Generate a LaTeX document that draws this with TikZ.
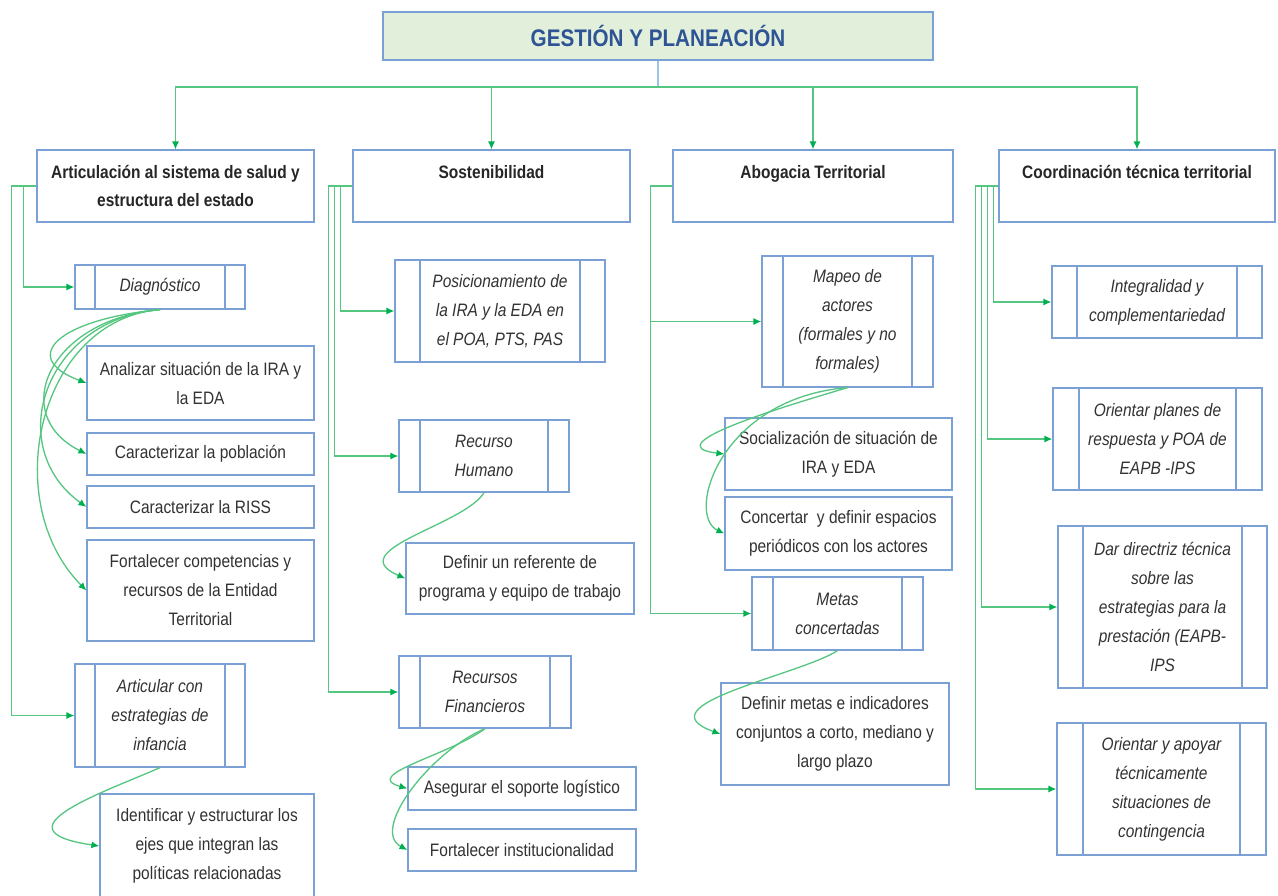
\documentclass[tikz,border=0pt]{standalone}
\usepackage{fontspec}
\setmainfont{Liberation Sans}[FakeStretch=0.86]
\usetikzlibrary{arrows.meta,calc}
\definecolor{boxblue}{RGB}{122,160,212}
\definecolor{lgreen}{RGB}{84,198,128}
\definecolor{agreen}{RGB}{0,176,80}
\definecolor{txt}{RGB}{50,50,50}
\definecolor{ttl}{RGB}{46,84,150}
\definecolor{ttlfill}{RGB}{226,239,218}
\definecolor{tline}{RGB}{157,195,230}
\begin{document}
\begin{tikzpicture}[x=1pt,y=-1pt,
  base/.style={draw=boxblue, line width=1.2pt, fill=white, text=txt, align=center, inner sep=0pt,
    font=\fontsize{18}{29}\selectfont},
  taskbox/.style={base},
  procbox/.style={base, font=\itshape\fontsize{18}{29}\selectfont,
    path picture={
      \draw[boxblue, line width=1.2pt] ([xshift=#1]path picture bounding box.north west) -- ([xshift=#1]path picture bounding box.south west);
      \draw[boxblue, line width=1.2pt] ([xshift=-#1]path picture bounding box.north east) -- ([xshift=-#1]path picture bounding box.south east);
    }},
  procbox/.default=22pt,
  lonebox/.style={base, text=black!85, font=\bfseries\fontsize{18}{28}\selectfont},
  titlebox/.style={draw=boxblue, line width=1.2pt, fill=ttlfill, text=ttl, inner sep=0pt,
    font=\bfseries\fontsize{24}{28}\selectfont},
  gline/.style={draw=lgreen, line width=1.3pt},
  garrow/.style={gline, -{Latex[length=8pt,width=7pt,color=agreen]}},
  tconn/.style={draw=tline, line width=1.2pt}
]
\useasboundingbox[fill=white] (0,0) rectangle (1278,895);

% title
\node[titlebox, minimum width=550pt, minimum height=48pt] (title) at (658,36) {GESTIÓN Y PLANEACIÓN};

% level 1
\node[lonebox, minimum width=277pt, minimum height=72pt] (a1) at (175.5,186) {Articulación al sistema de salud y\\estructura del estado};
\node[lonebox, minimum width=277pt, minimum height=72pt] (a2) at (491.5,186) {Sostenibilidad\\\phantom{x}};
\node[lonebox, minimum width=280pt, minimum height=72pt] (a3) at (813,186) {Abogacia Territorial\\\phantom{x}};
\node[lonebox, minimum width=276pt, minimum height=72pt] (a4) at (1137,186) {Coordinación técnica territorial\\\phantom{x}};

\coordinate (bus) at (658,87);
\draw[tconn] (title.south) -- (bus);
\draw[garrow] (bus) -| (a1.north);
\draw[garrow] (bus) -| (a2.north);
\draw[garrow] (bus) -| (a3.north);
\draw[garrow] (bus) -| (a4.north);

% column 1
\node[procbox=20pt, minimum width=170pt, minimum height=44pt] (diag) at (160,287) {Diagnóstico};
\node[taskbox, minimum width=227pt, minimum height=74pt] (anal) at (200.5,383) {Analizar situación de la IRA y\\la EDA};
\node[taskbox, minimum width=227pt, minimum height=42pt] (pobl) at (200.5,454) {Caracterizar la población};
\node[taskbox, minimum width=227pt, minimum height=42pt] (riss) at (200.5,507) {Caracterizar la RISS};
\node[taskbox, minimum width=227pt, minimum height=101pt] (fort) at (200.5,590.5) {Fortalecer competencias y\\recursos de la Entidad\\Territorial};
\node[procbox=20pt, minimum width=170pt, minimum height=103pt] (artic) at (160,715.5) {Articular con\\estrategias de\\infancia};
\node[taskbox, minimum width=214pt, minimum height=104pt] (ident) at (207,846) {Identificar y estructurar los\\ejes que integran las\\políticas relacionadas};

\draw[garrow] (a1.west) -- ++(-13,0) |- (diag.west);
\draw[garrow] (a1.west) -- ++(-25,0) |- (artic.west);

\draw[garrow] (diag.south) .. controls (60,319) and (17,357) .. (anal.west);
\draw[garrow] (diag.south) .. controls (50,319) and (7,414) .. (pobl.west);
\draw[garrow] (diag.south) .. controls (45,319) and (2,446) .. (riss.west);
\draw[garrow] (diag.south) .. controls (40,319) and (-3,500) .. (fort.west);
\draw[garrow] (artic.south) .. controls (110,790) and (-10,830) .. (ident.west);

% column 2
\node[procbox=25pt, minimum width=210pt, minimum height=102pt] (posi) at (500,311) {Posicionamiento de\\la IRA y la EDA en\\el POA, PTS, PAS};
\node[procbox=21pt, minimum width=170pt, minimum height=72pt] (rh) at (484,456) {Recurso\\Humano};
\node[taskbox, minimum width=228pt, minimum height=71pt] (defref) at (520,578.5) {Definir un referente de\\programa y equipo de trabajo};
\node[procbox=21pt, minimum width=172pt, minimum height=72pt] (rf) at (485,692) {Recursos\\Financieros};
\node[taskbox, minimum width=228pt, minimum height=43pt] (aseg) at (522,788.5) {Asegurar el soporte logístico};
\node[taskbox, minimum width=228pt, minimum height=42pt] (finst) at (522,850) {Fortalecer institucionalidad};

\draw[garrow] (a2.west) -- ++(-12,0) |- (posi.west);
\draw[garrow] (a2.west) -- ++(-18,0) |- (rh.west);
\draw[garrow] (a2.west) -- ++(-24,0) |- (rf.west);

\draw[garrow] (rh.south) .. controls (465,525) and (340,550) .. (defref.west);
\draw[garrow] (rf.south) .. controls (450,755) and (360,775) .. (aseg.west);
\draw[garrow] (rf.south) .. controls (430,752) and (370,830) .. (finst.west);

% column 3
\node[procbox=21pt, minimum width=171pt, minimum height=131pt] (mapeo) at (847.5,321.5) {Mapeo de\\actores\\(formales y no\\formales)};
\node[taskbox, minimum width=227pt, minimum height=72pt] (soc) at (838.5,454) {Socialización de situación de\\IRA y EDA};
\node[taskbox, minimum width=227pt, minimum height=73pt] (conc) at (838.5,533.5) {Concertar\ \ y definir espacios\\periódicos con los actores};
\node[procbox=21pt, minimum width=171pt, minimum height=73pt] (metas) at (837.5,613.5) {Metas\\concertadas};
\node[taskbox, minimum width=228pt, minimum height=102pt] (defmet) at (835,734) {Definir metas e indicadores\\conjuntos a corto, mediano y\\largo plazo};

\draw[garrow] (a3.west) -- ++(-22,0) |- (mapeo.west);
\draw[garrow] (a3.west) -- ++(-22,0) |- (metas.west);

\draw[garrow] (mapeo.south) .. controls (800,402) and (650,445) .. (soc.west);
\draw[garrow] (mapeo.south) .. controls (720,398) and (685,515) .. (conc.west);
\draw[garrow] (metas.south) .. controls (800,675) and (640,705) .. (defmet.west);

% column 4
\node[procbox=25pt, minimum width=210pt, minimum height=72pt] (integ) at (1157,302) {Integralidad y\\complementariedad};
\node[procbox=26pt, minimum width=209pt, minimum height=102pt] (orpl) at (1157.5,439) {Orientar planes de\\respuesta y POA de\\EAPB -IPS};
\node[procbox=25pt, minimum width=209pt, minimum height=162pt] (dar) at (1162.5,607) {Dar directriz técnica\\sobre las\\estrategias para la\\prestación (EAPB-\\IPS};
\node[procbox=26pt, minimum width=209pt, minimum height=132pt] (orap) at (1161.5,789) {Orientar y apoyar\\técnicamente\\situaciones de\\contingencia};

\draw[garrow] (a4.west) -- ++(-5,0) |- (integ.west);
\draw[garrow] (a4.west) -- ++(-11,0) |- (orpl.west);
\draw[garrow] (a4.west) -- ++(-17,0) |- (dar.west);
\draw[garrow] (a4.west) -- ++(-23,0) |- (orap.west);
\end{tikzpicture}
\end{document}
